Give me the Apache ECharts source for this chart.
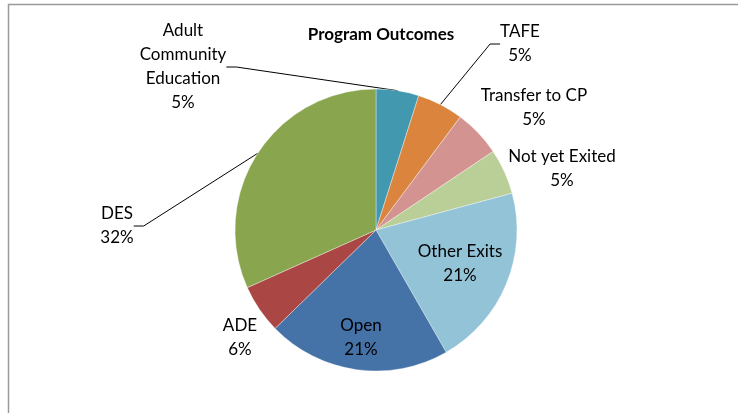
<!DOCTYPE html>
<html>
<head>
<meta charset="utf-8">
<script src="https://cdn.jsdelivr.net/npm/echarts@6/dist/echarts.min.js"></script>
<style>
  html, body { margin: 0; padding: 0; background: #fff; }
  #chart { width: 738px; height: 413px; }
</style>
</head>
<body>
<div id="chart"></div>
<script>
// pie data, clockwise from 12 o'clock
const categories = ['Adult Community Education', 'TAFE', 'Transfer to CP', 'Not yet Exited',
  'Other Exits', 'Open', 'ADE', 'DES'];
const values = [4.9, 5.3, 5.4, 5.2, 20.9, 21.0, 5.6, 31.7];
const colors = ['#4198AF', '#DB843D', '#D39391', '#BACE97', '#93C3D7', '#4572A7', '#AA4643', '#89A54E'];

// label centres (layout only)
const labelPos = [
  [183, 67], [520, 44], [534, 108], [562, 169],
  [460, 264], [361, 338], [240, 338], [117, 226]
];
const withLine = [true, true, false, false, false, false, false, true];

const chart = echarts.init(document.getElementById('chart'));

const option = {
  animation: false,
  textStyle: { fontFamily: 'Lato' },
  title: {
    text: 'Program Outcomes',
    left: 376,
    top: 21,
    textAlign: 'center',
    textStyle: { fontFamily: 'Lato', fontSize: 17, fontWeight: 'bold', color: '#000' }
  },
  graphic: [{
    type: 'rect',
    shape: { x: 8.5, y: 4.5, width: 800, height: 500 },
    style: { fill: 'none', stroke: '#9a9a9a', lineWidth: 1.5 },
    silent: true
  }],
  series: [{
    type: 'pie',
    center: [376, 230],
    radius: 141,
    startAngle: 90,
    clockwise: true,
    percentPrecision: 0,
    data: categories.map((name, i) => ({
      name: name,
      value: values[i],
      itemStyle: { color: colors[i] },
      labelLine: { show: withLine[i] }
    })),
    itemStyle: { borderColor: 'rgba(255,255,255,0.6)', borderWidth: 0.6 },
    label: {
      show: true,
      position: 'outside',
      color: '#000',
      fontFamily: 'Lato',
      fontSize: 17,
      lineHeight: 24,
      align: 'center',
      formatter: p => (p.name === 'Adult Community Education' ? 'Adult\nCommunity\nEducation' : p.name) +
        '\n' + p.percent + '%'
    },
    labelLine: {
      show: true,
      length: 10,
      length2: 10,
      lineStyle: { color: '#000', width: 1 }
    },
    labelLayout: function (params) {
      const p = labelPos[params.dataIndex];
      return { x: p[0], y: p[1], align: 'center', verticalAlign: 'middle' };
    }
  }]
};

chart.setOption(option);
</script>
</body>
</html>
